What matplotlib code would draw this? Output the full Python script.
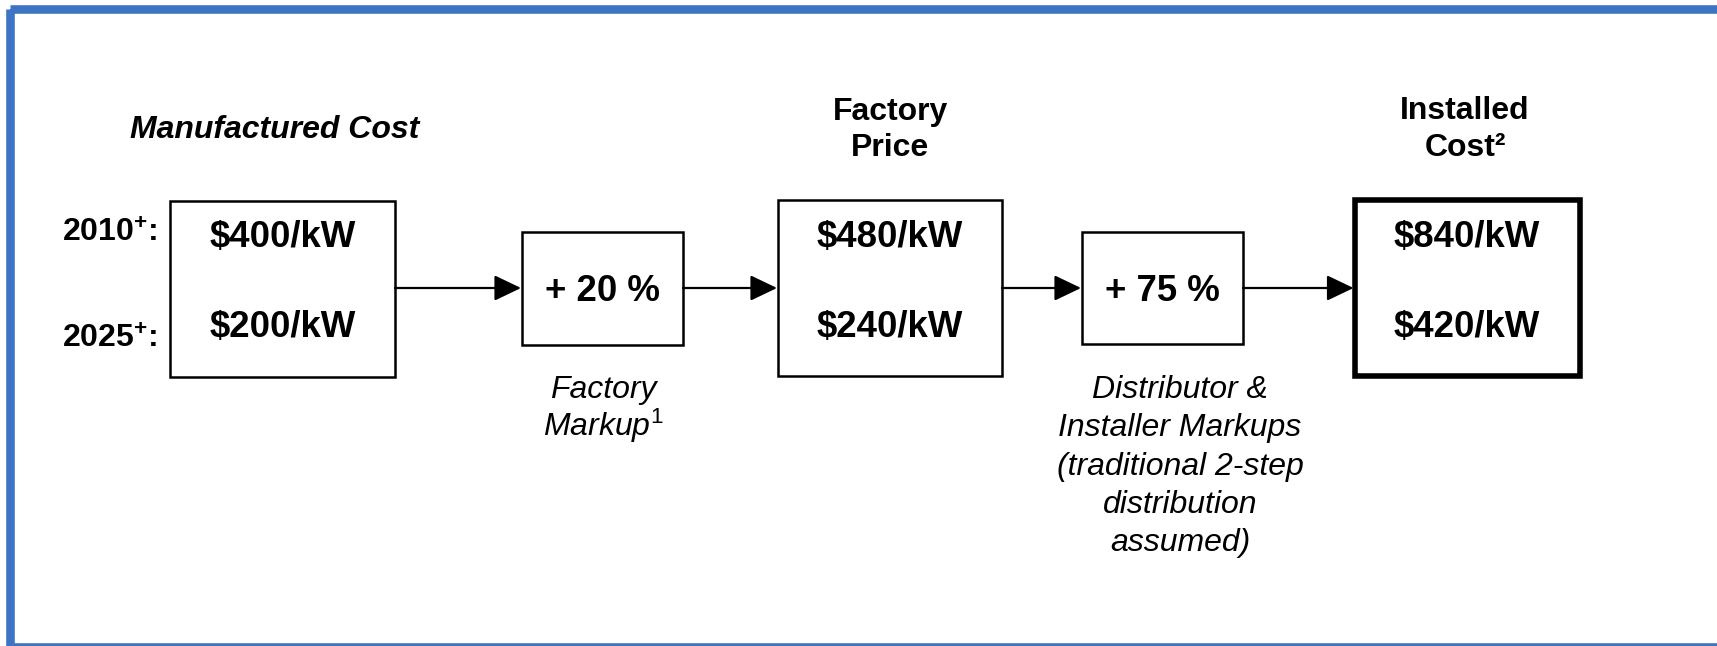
import matplotlib.pyplot as plt
from matplotlib.patches import Rectangle

plt.rcParams['font.family'] = 'Liberation Sans'
plt.rcParams['mathtext.fontset'] = 'custom'
plt.rcParams['mathtext.rm'] = 'Liberation Sans'
plt.rcParams['mathtext.bf'] = 'Liberation Sans:bold'
plt.rcParams['mathtext.it'] = 'Liberation Sans:italic'

# Cost chain data ($/kW) for the two years
years = ['2010', '2025']
manufactured_cost = [400, 200]
factory_price = [480, 240]
installed_cost = [840, 420]
markups = [20, 75]
stage_titles = [['Manufactured Cost'], ['Factory', 'Price'], ['Installed', 'Cost\u00b2']]
markup_notes = [['Factory', 'Markup$^{\\mathit{1}}$'],
                ['Distributor &', 'Installer Markups', '(traditional 2-step',
                 'distribution', 'assumed)']]

fig = plt.figure(figsize=(17.17, 6.46), dpi=100)
ax = fig.add_axes([0, 0, 1, 1])
ax.set_xlim(0, 1717)
ax.set_ylim(646, 0)
ax.axis('off')

# outer blue frame (right and bottom sides run off the picture)
ax.add_patch(Rectangle((10, 8.5), 1740, 638, fill=False, ec='#3D74C4', lw=6.2,
                       clip_on=False))

# layout: value boxes (x0, x1, y0, y1) and markup boxes
value_boxes = [(170, 395, 201, 377), (778, 1002, 200, 376), (1354.5, 1579.5, 200, 375.5)]
value_lw = [1.8, 1.8, 4.0]
markup_boxes = [(522, 683, 232, 345), (1082, 1243, 232, 344)]
value_sets = [manufactured_cost, factory_price, installed_cost]
row_base = [247, 337]
arrow_y = 288
line_gap = 38.3

for (x0, x1, y0, y1), lw, vals in zip(value_boxes, value_lw, value_sets):
    ax.add_patch(Rectangle((x0, y0), x1 - x0, y1 - y0, fill=False, ec='black', lw=lw))
    for v, y in zip(vals, row_base):
        ax.text((x0 + x1) / 2, y, f'${v}/kW', ha='center', va='baseline',
                fontsize=26.4, fontweight='bold')

for (x0, x1, y0, y1), m in zip(markup_boxes, markups):
    ax.add_patch(Rectangle((x0, y0), x1 - x0, y1 - y0, fill=False, ec='black', lw=1.8))
    ax.text((x0 + x1) / 2, 301, f'+ {m} %', ha='center', va='baseline',
            fontsize=26.4, fontweight='bold')

# arrows between boxes
chain = [value_boxes[0], markup_boxes[0], value_boxes[1], markup_boxes[1], value_boxes[2]]
for a, b in zip(chain[:-1], chain[1:]):
    ax.annotate('', xy=(b[0] - 1, arrow_y), xytext=(a[1], arrow_y),
                arrowprops=dict(arrowstyle='-|>,head_length=1.65,head_width=0.79',
                                mutation_scale=10, color='black', lw=1.6,
                                shrinkA=0, shrinkB=0))


def stack(x, first_base, lines, gap, **kw):
    for i, s in enumerate(lines):
        ax.text(x, first_base + i * gap, s, ha='center', va='baseline', fontsize=23, **kw)


# stage titles
stack(275, 138, stage_titles[0], 36, fontweight='bold', style='italic')
stack(890, 120, stage_titles[1], 36.5, fontweight='bold')
stack(1465, 119, stage_titles[2], 37, fontweight='bold')

# year labels
for yr, y in zip(years, [242, 348]):
    ax.text(62, y, yr + '$^{\\mathbf{+}}$:', ha='left', va='baseline',
            fontsize=23, fontweight='bold')

# markup notes
stack(603, 398, markup_notes[0], line_gap, style='italic')
stack(1180, 398, markup_notes[1], line_gap, style='italic')

fig.savefig('out.png', dpi=100)
